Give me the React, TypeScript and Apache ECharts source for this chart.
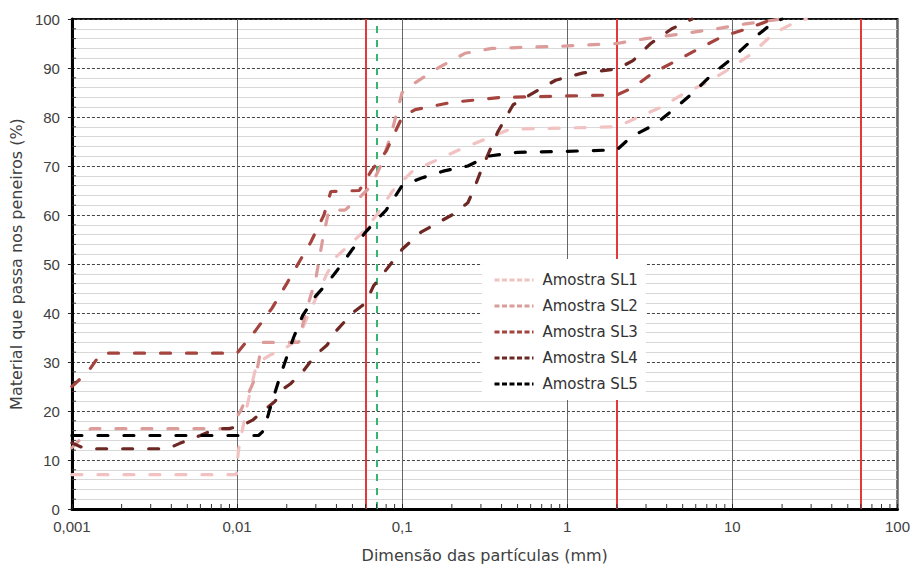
import React, { useEffect, useRef } from 'react';
import * as echarts from 'echarts';

const seriesNames = ['Amostra SL1', 'Amostra SL2', 'Amostra SL3', 'Amostra SL4', 'Amostra SL5'];
const seriesColors = ['#f2c2c2', '#dc9c9a', '#a5443f', '#6e2824', '#000000'];

// [particle size (mm), % passing]
const sl1: [number, number][] = [
  [0.001, 7], [0.0099, 7], [0.0102, 12], [0.0115, 21], [0.0128, 28], [0.0136, 30], [0.016, 31.5],
  [0.019, 32.5], [0.022, 34], [0.025, 37], [0.03, 43], [0.035, 48], [0.04, 51.5], [0.05, 54.5],
  [0.06, 57], [0.07, 60], [0.088, 65], [0.116, 69], [0.164, 71.3], [0.228, 73.5], [0.32, 75.5],
  [0.45, 77.5], [2, 78], [2.7, 80], [3.7, 82], [5.2, 85], [7, 87], [9.8, 90], [13.2, 93],
  [17.7, 97], [24.5, 99.5], [28, 100],
];
const sl2: [number, number][] = [
  [0.001, 12.5], [0.0013, 16.4], [0.009, 16.4], [0.0105, 20], [0.013, 27], [0.0142, 34],
  [0.0236, 34], [0.026, 40], [0.03, 47], [0.033, 55], [0.036, 61], [0.045, 61], [0.055, 63.5],
  [0.065, 66], [0.074, 70], [0.085, 76], [0.1, 85], [0.12, 87], [0.165, 90], [0.24, 93],
  [0.35, 94], [1, 94.5], [2, 95], [3, 96], [5, 97], [8, 98], [12, 99], [20, 100],
];
const sl3: [number, number][] = [
  [0.001, 25], [0.00125, 28], [0.0015, 31.8], [0.01, 31.8], [0.013, 36.5], [0.0163, 41],
  [0.02, 46], [0.0234, 50], [0.028, 54.5], [0.0336, 60], [0.037, 64.8], [0.055, 65],
  [0.065, 69], [0.08, 73], [0.1, 80], [0.12, 81.5], [0.2, 83], [0.4, 84], [1, 84.3], [2, 84.5],
  [2.5, 86], [3.3, 89], [4.6, 91.5], [6.3, 94], [8.8, 96.5], [12.3, 98], [17, 99.8], [20, 100],
];
const sl4: [number, number][] = [
  [0.001, 13.5], [0.0012, 12.3], [0.0038, 12.3], [0.0045, 13.4], [0.006, 15], [0.0075, 16.4],
  [0.009, 16.4], [0.011, 17.2], [0.0125, 18.2], [0.015, 20.5], [0.017, 22], [0.019, 24.5],
  [0.021, 25.5], [0.025, 28], [0.03, 31.5], [0.035, 33.4], [0.04, 36.4], [0.05, 40], [0.06, 42],
  [0.067, 45.5], [0.083, 49.5], [0.1, 53], [0.13, 56.5], [0.2, 60], [0.25, 62.5], [0.27, 65],
  [0.3, 69], [0.38, 77], [0.47, 82.5], [0.65, 85.3], [0.85, 87.5], [1.25, 89], [2, 89.8],
  [2.5, 91.5], [3.2, 95], [4.3, 98], [5.7, 100],
];
const sl5: [number, number][] = [
  [0.001, 15], [0.0135, 15], [0.0145, 16], [0.016, 21], [0.018, 26.5], [0.02, 31], [0.022, 35],
  [0.025, 39.5], [0.03, 43.5], [0.035, 46], [0.04, 48.5], [0.05, 53], [0.06, 56.5], [0.07, 59],
  [0.08, 61], [0.1, 66], [0.13, 67.5], [0.18, 69], [0.25, 70], [0.33, 72], [0.5, 72.8], [1, 73],
  [2, 73.3], [2.45, 76], [3.4, 78.5], [4.4, 81.5], [5.8, 85], [7.7, 89], [10, 92], [13.4, 96],
  [18, 99.5], [20, 100],
];
const seriesData = [sl1, sl2, sl3, sl4, sl5];

const limitLines = [0.002, 0.06, 2, 60];
const sieve200 = 0.075;
const decades = [0.001, 0.01, 0.1, 1, 10];
const minorMultipliers = [2, 3, 4, 5, 6, 7, 8, 9];
const yMinorValues = [2, 4, 6, 8, 12, 14, 16, 18, 22, 24, 26, 28, 32, 34, 36, 38, 42, 44, 46, 48,
  52, 54, 56, 58, 62, 64, 66, 68, 72, 74, 76, 78, 82, 84, 86, 88, 92, 94, 96, 98];

function fmtX(v: number): string {
  const e = Math.round(Math.log10(v));
  const s = e < 0 ? Math.pow(10, e).toFixed(-e) : String(Math.round(Math.pow(10, e)));
  return s.replace('.', ',');
}

export default function App() {
  const ref = useRef<HTMLDivElement>(null);
  useEffect(() => {
    if (!ref.current) return;
    const chart = echarts.init(ref.current, undefined, { renderer: 'svg' });
    const xMinor: number[][] = [];
    decades.forEach((d) => minorMultipliers.forEach((m) => xMinor.push([d * m, 0])));

    const lineSeries = seriesNames.map((name, i) => ({
      name,
      type: 'line',
      data: seriesData[i],
      symbol: 'circle',
      showSymbol: false,
      smooth: false,
      z: 3,
      lineStyle: { color: seriesColors[i], width: 3.2, type: [10, 16], cap: 'round' },
      itemStyle: { color: seriesColors[i] },
      ...(i === 0
        ? {
            markLine: {
              silent: true,
              symbol: 'none',
              label: { show: false },
              z: 2,
              data: [
                ...limitLines.map((v) => ({ xAxis: v, lineStyle: { color: '#e23a3a', width: 2, type: 'solid' } })),
                { xAxis: sieve200, lineStyle: { color: '#35b56e', width: 2, type: [7, 7] } },
              ],
            },
          }
        : {}),
    }));

    chart.setOption({
      animation: false,
      grid: { left: 66, right: 14, top: 19, bottom: 55, show: true, borderColor: '#111', borderWidth: 2, backgroundColor: 'transparent' },
      legend: {
        data: seriesNames,
        orient: 'vertical',
        left: 482,
        top: 259,
        backgroundColor: '#ffffff',
        padding: [13, 8, 8, 11],
        itemWidth: 39,
        itemHeight: 14,
        itemGap: 10,
        itemStyle: { opacity: 0, borderWidth: 0 },
        lineStyle: { type: [5, 2.5], width: 3, cap: 'butt' },
        textStyle: { fontFamily: 'DejaVu Sans', fontSize: 15, color: '#333', lineHeight: 16, padding: [0, 0, 0, 4] },
      },
      xAxis: {
        type: 'log',
        logBase: 10,
        min: 0.001,
        max: 100,
        axisLine: { show: true, onZero: false, lineStyle: { color: '#000', width: 3 } },
        axisTick: { show: true, inside: true, length: 5, lineStyle: { color: '#222' } },
        axisLabel: { formatter: fmtX, fontFamily: 'Liberation Sans', fontSize: 15, color: '#404040', margin: 10 },
        splitLine: { show: true, lineStyle: { color: '#666', width: 1, type: 'solid' } },
        name: 'Dimensão das partículas (mm)',
        nameLocation: 'middle',
        nameGap: 38,
        nameTextStyle: { fontFamily: 'DejaVu Sans', fontSize: 16, color: '#404040' },
      },
      yAxis: {
        type: 'value',
        min: 0,
        max: 100,
        interval: 10,
        axisLine: { show: true, lineStyle: { color: '#000', width: 3 } },
        axisTick: { show: true, length: 4, lineStyle: { color: '#222' } },
        axisLabel: { fontFamily: 'Liberation Sans', fontSize: 15, color: '#404040', margin: 12 },
        splitLine: { show: true, lineStyle: { color: '#444', width: 1, type: [3, 2] } },
        minorTick: { show: false, splitNumber: 5 },
        minorSplitLine: { show: true, lineStyle: { color: '#d8d8d8', width: 1 } },
        name: 'Material que passa nos peneiros (%)',
        nameLocation: 'middle',
        nameGap: 38,
        nameTextStyle: { fontFamily: 'DejaVu Sans', fontSize: 16, color: '#404040' },
      },
      series: [
        ...lineSeries,
        {
          type: 'custom',
          name: 'xminor',
          silent: true,
          z: 4,
          data: xMinor,
          renderItem: (_p: any, api: any) => {
            const p = api.coord([api.value(0), 0]);
            return { type: 'line', shape: { x1: p[0], y1: p[1], x2: p[0], y2: p[1] - 5 }, style: { stroke: '#333', lineWidth: 1 } };
          },
        },
        {
          type: 'custom',
          name: 'yminor',
          silent: true,
          z: 4,
          data: yMinorValues.map((v) => [0.001, v]),
          renderItem: (_p: any, api: any) => {
            const p = api.coord([0.001, api.value(1)]);
            return { type: 'line', shape: { x1: p[0], y1: p[1], x2: p[0] + 4, y2: p[1] }, style: { stroke: '#333', lineWidth: 1 } };
          },
        },
      ],
    });
    return () => chart.dispose();
  }, []);
  return <div ref={ref} style={{ position: 'fixed', left: 0, top: 0, width: 913, height: 568, background: '#fff' }} />;
}
